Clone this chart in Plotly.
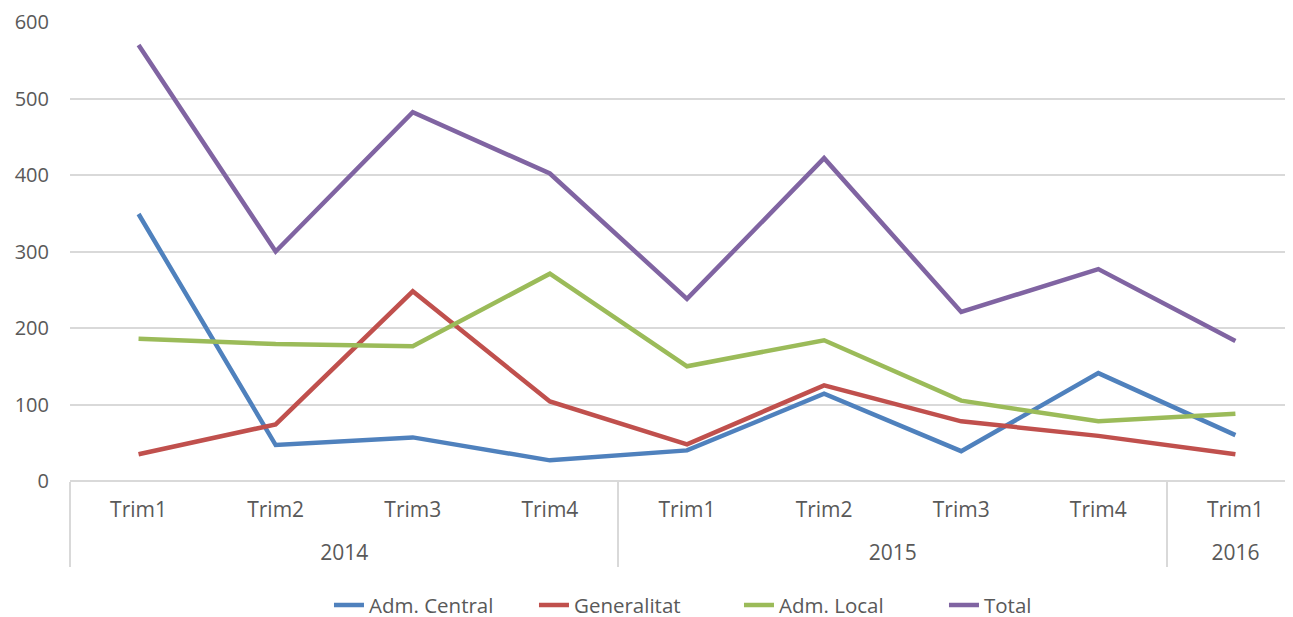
import plotly.graph_objects as go

years = ["2014", "2014", "2014", "2014", "2015", "2015", "2015", "2015", "2016"]
quarters = ["Trim1", "Trim2", "Trim3", "Trim4", "Trim1", "Trim2", "Trim3", "Trim4", "Trim1"]

adm_central = [349, 47, 57, 27, 40, 114, 39, 141, 60]
generalitat = [35, 74, 248, 104, 48, 125, 78, 59, 35]
adm_local = [186, 179, 176, 271, 150, 184, 105, 78, 88]
total = [570, 300, 482, 402, 238, 422, 221, 277, 183]

series = [
    ("Adm. Central", adm_central, "#4F81BD"),
    ("Generalitat", generalitat, "#C0504D"),
    ("Adm. Local", adm_local, "#9BBB59"),
    ("Total", total, "#8064A2"),
]

year_labels = ["<br>" + y for y in years]

font_family = "Open Sans"
text_color = "#595959"

fig = go.Figure()
for name, vals, color in series:
    fig.add_trace(go.Scatter(
        x=[year_labels, quarters], y=vals, name=name, mode="lines",
        line=dict(color=color, width=4.5),
    ))

fig.update_layout(
    width=1293, height=617,
    margin=dict(l=62, r=8, t=14, b=144),
    paper_bgcolor="white", plot_bgcolor="white",
    font=dict(family=font_family, size=20, color=text_color),
    showlegend=True,
    legend=dict(orientation="h", x=0.547, xanchor="center",
                yref="container", y=0.032, yanchor="middle",
                font=dict(size=20.5, color=text_color), tracegroupgap=0,
                entrywidth=160, entrywidthmode="pixels"),
    xaxis=dict(
        type="multicategory", range=[-0.5, 8.42], automargin=False,
        showgrid=False, showline=False, zeroline=False,
        showdividers=True, dividercolor="#d9d9d9", dividerwidth=1.5,
        tickfont=dict(size=21, color=text_color),
        ticks="", ticklabelstandoff=14,
    ),
    yaxis=dict(
        range=[0, 600], dtick=100, tick0=0, automargin=False,
        showgrid=True, gridcolor="#d9d9d9", gridwidth=1.5,
        zeroline=True, zerolinecolor="#d9d9d9", zerolinewidth=1.5,
        showline=False, ticks="", ticklabelstandoff=20,
        tickfont=dict(size=20, color=text_color),
    ),
)

fig.write_html("out.html")
